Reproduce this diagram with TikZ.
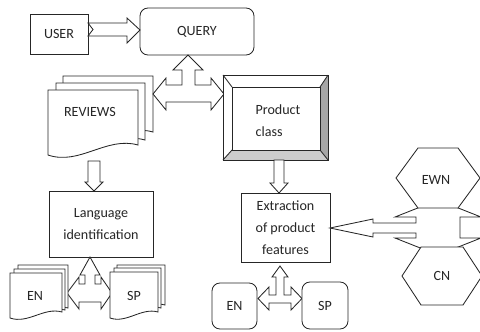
\documentclass[tikz,border=0pt]{standalone}
\usepackage{fontspec}
\setmainfont{Carlito}
\newcommand{\docpath}[5]{(#1,#3) -- (#2,#3) -- (#2,#5) .. controls ({#2-0.35*(#2-#1)},{#5-0.1*(#2-#1)}) and ({#1+0.35*(#2-#1)},{#4+0.12*(#2-#1)}) .. (#1,#4) -- cycle}
\begin{document}
\begin{tikzpicture}[x=0.025cm,y=-0.025cm,line width=0.6pt,color=black!85,
    lbl/.style={font=\fontsize{10}{15.5}\selectfont,align=center},
    box/.style={draw,fill=white,inner sep=0pt,lbl},
    docu/.style={draw,fill=white},
    blockarrow/.style={draw,fill=white,line join=miter}]
    \useasboundingbox (0,0) rectangle (480,331);
    \node [box,minimum width=1.45cm,minimum height=1cm] (user) at (59,34) {USER};
    \node [box,rounded corners=0.2cm,minimum width=2.85cm,minimum height=1.175cm] (query) at (197,31.5) {QUERY};
    \draw[blockarrow] (88,23) -- (127,23) -- (127,18) -- (140,30) -- (127,43) -- (127,36) -- (88,36) -- (93,29.5) -- cycle;
    \draw[docu] \docpath{63}{153}{76}{142}{132};
    \draw[docu] \docpath{56}{145}{83}{150}{140};
    \draw[docu] \docpath{48}{138}{90}{155}{145};
    \node [lbl] (reviews) at (90,112) {REVIEWS};
    \draw[blockarrow] (188,55) -- (203,70) -- (195,70) -- (195,85) -- (211,85) -- (211,78) -- (224,94) -- (211,110) -- (211,102) -- (166,102) -- (166,110) -- (153,94) -- (166,78) -- (166,85) -- (182,85) -- (182,70) -- (173,70) -- cycle;
    \draw[blockarrow] (88,161) -- (100,161) -- (100,182) -- (103,182) -- (94,191) -- (85,182) -- (88,182) -- cycle;
    \node [box,minimum width=2.6cm,minimum height=1.65cm] (lang) at (101,224) {Language\\identification};
    \draw[blockarrow] (90,257) -- (100,275) -- (95,275) -- (95,284) -- (101,284) -- (101,277) -- (112,293) -- (101,309) -- (101,302) -- (79,302) -- (79,309) -- (67,293) -- (79,277) -- (79,284) -- (85,284) -- (85,275) -- (80,275) -- cycle;
    \draw[docu] \docpath{18}{68}{265}{314}{308};
    \draw[docu] \docpath{14}{65}{269}{316}{310};
    \draw[docu] \docpath{10}{62}{273}{318}{312};
    \node [lbl] (en1) at (35,296) {EN};
    \draw[docu] \docpath{117}{165}{265}{311}{305};
    \draw[docu] \docpath{114}{161}{268}{314}{308};
    \draw[docu] \docpath{110}{158}{272}{318}{312};
    \node [lbl] (sp1) at (134,296) {SP};
    \draw[fill=white] (223,75) rectangle (328,160);
    \fill[gray!70] (320,87) -- (328,75) -- (328,160) -- (320,150) -- cycle;
    \fill[gray!40] (232,150) -- (320,150) -- (328,160) -- (223,160) -- cycle;
    \draw (223,75) rectangle (328,160);
    \draw (232,87) rectangle (320,150);
    \draw (223,75) -- (232,87);
    \draw (328,75) -- (320,87);
    \draw (328,160) -- (320,150);
    \draw (223,160) -- (232,150);
    \node [lbl,align=left] (prodclass) at (278,121) {Product\\class};
    \draw[blockarrow] (274,160) -- (284,160) -- (284,183) -- (288,183) -- (279,193) -- (270,183) -- (274,183) -- cycle;
    \node [box,minimum width=2.225cm,minimum height=1.725cm] (extract) at (285.5,227.5) {Extraction\\of product\\features};
    \draw[blockarrow] (280,266) -- (288,277) -- (284,277) -- (284,295) -- (291,295) -- (291,287) -- (302,298.5) -- (291,310) -- (291,303) -- (269,303) -- (269,310) -- (258,298.5) -- (269,287) -- (269,295) -- (276,295) -- (276,277) -- (272,277) -- cycle;
    \node [box,rounded corners=0.2cm,minimum width=1.125cm,minimum height=1.15cm] (en2) at (234.5,306) {EN};
    \node [box,rounded corners=0.2cm,minimum width=1.15cm,minimum height=1.175cm] (sp2) at (325,305.5) {SP};
    \draw[blockarrow] (330,228) -- (373,219) -- (373,223) -- (416,223) -- (416,217) -- (395,217) -- (438,200) -- (481,217) -- (460,217) -- (460,238) -- (481,238) -- (438,255) -- (395,238) -- (416,238) -- (416,233) -- (373,233) -- (373,237) -- cycle;
    \draw[fill=white] (396,178) -- (418,148) -- (458,148) -- (480,178) -- (458,208) -- (418,208) -- cycle;
    \draw[fill=white] (402,276) -- (421,247) -- (463,247) -- (482,276) -- (463,305) -- (421,305) -- cycle;
    \node [lbl] (ewn) at (436,180) {EWN};
    \node [lbl] (cn) at (442,276) {CN};
\end{tikzpicture}
\end{document}
